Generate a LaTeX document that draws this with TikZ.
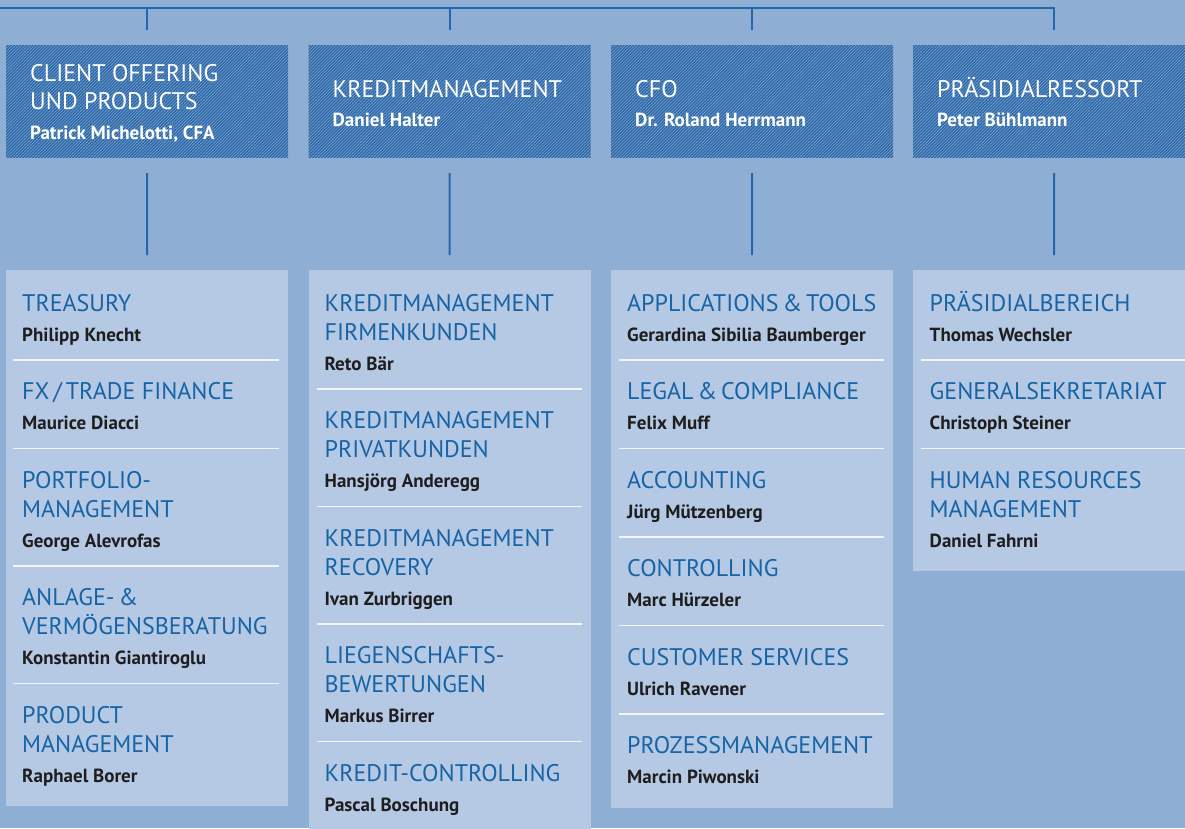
\documentclass[tikz,border=0pt]{standalone}
\usepackage{fontspec}
\setmainfont{PT Sans}
\usetikzlibrary{patterns.meta}
\definecolor{bgcol}{HTML}{8EAED4}
\definecolor{boxfill}{HTML}{B5C8E4}
\definecolor{headblue}{HTML}{1664A6}
\definecolor{namecol}{HTML}{1E1E1E}
\definecolor{conncol}{HTML}{2368AA}
\definecolor{hatchlight}{HTML}{7AA3D0}
\definecolor{hatchdark}{HTML}{2A66A6}
\definecolor{sepcol}{HTML}{F2F6FB}
\begin{document}
\begin{tikzpicture}[x=1pt,y=-1pt,
  hdr/.style={rectangle, inner sep=0, minimum width=282pt, minimum height=112pt,
    fill=hatchlight, postaction={pattern={Lines[angle=45,distance=2.2pt,line width=1.3pt]}, pattern color=hatchdark}},
  lowbox/.style={rectangle, inner sep=0, minimum width=282pt, fill=boxfill, anchor=north west},
  hd/.style={anchor=base west, inner sep=0, text=headblue, font=\fontsize{24}{29}\selectfont},
  hdw/.style={hd, text=white},
  nm/.style={anchor=base west, inner sep=0, text=namecol, font=\bfseries\fontsize{19}{22}\selectfont},
  nmw/.style={nm, text=white},
  conn/.style={draw=conncol, line width=2pt},
  sepline/.style={draw=sepcol, line width=1.5pt}]
\useasboundingbox (0,0) rectangle (1185,828);
\clip (0,0) rectangle (1185,828);
\fill[bgcol] (0,0) rectangle (1185,828);

% header boxes
\node[hdr] (h1) at (147,101) {};
\node[hdr] (h2) at (449.5,101) {};
\node[hdr] (h3) at (752,101) {};
\node[hdr] (h4) at (1054,101) {};

% lower boxes
\node[lowbox, minimum height=536pt] (b1) at (6,270) {};
\node[lowbox, minimum height=570pt] (b2) at (308.5,270) {};
\node[lowbox, minimum height=537.5pt] (b3) at (611,270) {};
\node[lowbox, minimum height=301pt] (b4) at (913,270) {};

% connectors
\coordinate (busL) at (0,8);
\coordinate (busR) at (1054,8);
\draw[conn, line join=miter] (busL) -- (busR) -- ([yshift=15pt]h4.north);
\draw[conn] (busL -| h1.north) -- ([yshift=15pt]h1.north);
\draw[conn] (busL -| h2.north) -- ([yshift=15pt]h2.north);
\draw[conn] (busL -| h3.north) -- ([yshift=15pt]h3.north);
\draw[conn] ([yshift=-16pt]h1.south) -- ([yshift=15pt]b1.north);
\draw[conn] ([yshift=-16pt]h2.south) -- ([yshift=15pt]b2.north);
\draw[conn] ([yshift=-16pt]h3.south) -- ([yshift=15pt]b3.north);
\draw[conn] ([yshift=-16pt]h4.south) -- ([yshift=15pt]b4.north);

% header texts
\node[hdw] (ht1a) at (30,81) {CLIENT OFFERING};
\node[hdw] (ht1b) at (30,109) {UND PRODUCTS};
\node[nmw] (hn1) at (30,139) {Patrick Michelotti, CFA};
\node[hdw] (ht2) at (332.5,97) {KREDITMANAGEMENT};
\node[nmw] (hn2) at (332.5,126) {Daniel Halter};
\node[hdw] (ht3) at (635,97) {CFO};
\node[nmw] (hn3) at (635,126) {Dr. Roland Herrmann};
\node[hdw] (ht4) at (937,97) {PRÄSIDIALRESSORT};
\node[nmw] (hn4) at (937,126) {Peter Bühlmann};

% column 1
\node[hd] (c1a) at (22,311) {TREASURY};
\node[nm] (c1an) at (22,341) {Philipp Knecht};
\draw[sepline] (13,360) -- (279,360);
\node[hd] (c1b) at (22,399.5) {FX\,/\,TRADE FINANCE};
\node[nm] (c1bn) at (22,429.5) {Maurice Diacci};
\draw[sepline] (13,448.5) -- (279,448.5);
\node[hd] (c1c1) at (22,488) {PORTFOLIO-};
\node[hd] (c1c2) at (22,517) {MANAGEMENT};
\node[nm] (c1cn) at (22,547) {George Alevrofas};
\draw[sepline] (13,566) -- (279,566);
\node[hd] (c1d1) at (22,605.5) {ANLAGE-\,\&};
\node[hd] (c1d2) at (22,634.5) {VERMÖGENSBERATUNG};
\node[nm] (c1dn) at (22,664.5) {Konstantin Giantiroglu};
\draw[sepline] (13,683.5) -- (279,683.5);
\node[hd] (c1e1) at (22,723) {PRODUCT};
\node[hd] (c1e2) at (22,752) {MANAGEMENT};
\node[nm] (c1en) at (22,782) {Raphael Borer};

% column 2
\node[hd] (c2a1) at (324.5,311) {KREDITMANAGEMENT};
\node[hd] (c2a2) at (324.5,340) {FIRMENKUNDEN};
\node[nm] (c2an) at (324.5,370) {Reto Bär};
\draw[sepline] (316.5,389) -- (582,389);
\node[hd] (c2b1) at (324.5,428.5) {KREDITMANAGEMENT};
\node[hd] (c2b2) at (324.5,457.5) {PRIVATKUNDEN};
\node[nm] (c2bn) at (324.5,487.5) {Hansjörg Anderegg};
\draw[sepline] (316.5,506.5) -- (582,506.5);
\node[hd] (c2c1) at (324.5,546) {KREDITMANAGEMENT};
\node[hd] (c2c2) at (324.5,575) {RECOVERY};
\node[nm] (c2cn) at (324.5,605) {Ivan Zurbriggen};
\draw[sepline] (316.5,624) -- (582,624);
\node[hd] (c2d1) at (324.5,663.5) {LIEGENSCHAFTS-};
\node[hd] (c2d2) at (324.5,692.5) {BEWERTUNGEN};
\node[nm] (c2dn) at (324.5,722.5) {Markus Birrer};
\draw[sepline] (316.5,741.5) -- (582,741.5);
\node[hd] (c2e) at (324.5,781) {KREDIT-CONTROLLING};
\node[nm] (c2en) at (324.5,811) {Pascal Boschung};

% column 3
\node[hd] (c3a) at (627,311) {APPLICATIONS\,\&\,TOOLS};
\node[nm] (c3an) at (627,341) {Gerardina Sibilia Baumberger};
\draw[sepline] (619,360) -- (884,360);
\node[hd] (c3b) at (627,399.5) {LEGAL\,\&\,COMPLIANCE};
\node[nm] (c3bn) at (627,429.5) {Felix Muff};
\draw[sepline] (619,448.5) -- (884,448.5);
\node[hd] (c3c) at (627,488) {ACCOUNTING};
\node[nm] (c3cn) at (627,518) {Jürg Mützenberg};
\draw[sepline] (619,537) -- (884,537);
\node[hd] (c3d) at (627,576.5) {CONTROLLING};
\node[nm] (c3dn) at (627,606.5) {Marc Hürzeler};
\draw[sepline] (619,625.5) -- (884,625.5);
\node[hd] (c3e) at (627,665) {CUSTOMER SERVICES};
\node[nm] (c3en) at (627,695) {Ulrich Ravener};
\draw[sepline] (619,714) -- (884,714);
\node[hd] (c3f) at (627,753.5) {PROZESSMANAGEMENT};
\node[nm] (c3fn) at (627,783.5) {Marcin Piwonski};

% column 4
\node[hd] (c4a) at (929.5,311) {PRÄSIDIALBEREICH};
\node[nm] (c4an) at (929.5,341) {Thomas Wechsler};
\draw[sepline] (921,360) -- (1185,360);
\node[hd] (c4b) at (929.5,399.5) {GENERALSEKRETARIAT};
\node[nm] (c4bn) at (929.5,429.5) {Christoph Steiner};
\draw[sepline] (921,448.5) -- (1185,448.5);
\node[hd] (c4c1) at (929.5,488) {HUMAN RESOURCES};
\node[hd] (c4c2) at (929.5,517) {MANAGEMENT};
\node[nm] (c4cn) at (929.5,547) {Daniel Fahrni};
\end{tikzpicture}
\end{document}
